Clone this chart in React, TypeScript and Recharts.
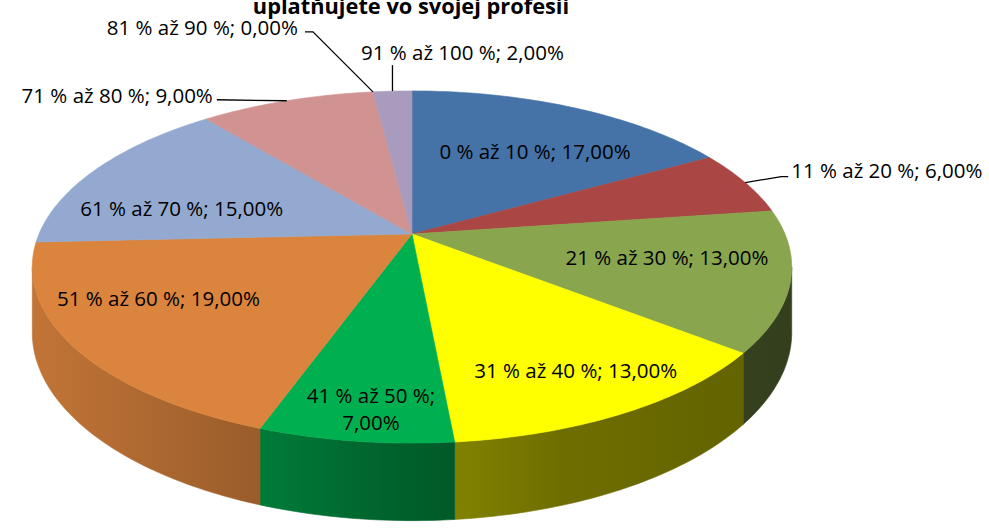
import React from "react";
import { PieChart, Pie, Cell } from "recharts";

// categories and shares
const categories = [
  "0 % až 10 %",
  "11 % až 20 %",
  "21 % až 30 %",
  "31 % až 40 %",
  "41 % až 50 %",
  "51 % až 60 %",
  "61 % až 70 %",
  "71 % až 80 %",
  "81 % až 90 %",
  "91 % až 100 %",
];
const shares = [17, 6, 13, 13, 7, 19, 15, 9, 0, 2];

const sliceColors = [
  "#4572A7",
  "#AA4643",
  "#89A54E",
  "#FFFF00",
  "#00B050",
  "#DB843D",
  "#93A9CF",
  "#D09392",
  "#80699B",
  "#A99BBD",
];

// label placement (Excel "best fit" imitation)
type Spot =
  | { kind: "in"; r: number; dx: number; dy: number; wrap?: boolean }
  | {
      kind: "out";
      elbow: [number, number];
      end: [number, number];
      text: [number, number];
      anchor: "start" | "middle" | "end";
    };

const labelSpots: Spot[] = [
  { kind: "in", r: 0.62, dx: 17, dy: 0 },
  { kind: "out", elbow: [36, -6], end: [43, -6], text: [46, -13], anchor: "start" },
  { kind: "in", r: 0.7, dx: -6, dy: -9 },
  { kind: "in", r: 0.79, dx: 2, dy: 0 },
  { kind: "in", r: 0.87, dx: 7, dy: 0, wrap: true },
  { kind: "in", r: 0.7, dx: -26, dy: -13 },
  { kind: "in", r: 0.7, dx: -4, dy: 20 },
  { kind: "out", elbow: [0, 0], end: [-70, -1], text: [-74, -6], anchor: "end" },
  { kind: "out", elbow: [-60, -60], end: [-68, -60], text: [-75, -65], anchor: "end" },
  { kind: "out", elbow: [0, -26], end: [0, -26], text: [70, -39], anchor: "middle" },
];

const tableData = categories.map((name, i) => ({ name, value: shares[i] }));

const FONT = "'Open Sans', sans-serif";
const TILT = 0.4555; // vertical squash of the disc
const PERSP = 0.1875; // perspective strength
const DEPTH = 63; // thickness of the pie

const rad = (d: number) => (d * Math.PI) / 180;

// phi: clockwise degrees from 3 o'clock, r: 0..1
function project(cx: number, cy: number, R: number, phi: number, r = 1, drop = 0) {
  const u = r * Math.cos(rad(phi));
  const v = r * Math.sin(rad(phi));
  const w = 1 - PERSP * v;
  return [cx + (R * u) / w, cy + (R * TILT * v + drop) / w];
}

const toPath = (pts: number[][]) =>
  pts.map((p, i) => `${i ? "L" : "M"}${p[0].toFixed(2)},${p[1].toFixed(2)}`).join("") + "Z";

function shade(hex: string, f: number) {
  const n = parseInt(hex.slice(1), 16);
  const c = [(n >> 16) & 255, (n >> 8) & 255, n & 255].map((x) => Math.round(x * f));
  return `rgb(${c[0]},${c[1]},${c[2]})`;
}

const TopFace = (props: any) => {
  const { cx, cy, outerRadius, startAngle, endAngle, fill } = props;
  const p0 = -startAngle;
  const p1 = -endAngle;
  if (p1 - p0 < 0.01) return null;
  const steps = Math.max(2, Math.ceil(p1 - p0));
  const pts = [[cx, cy]];
  for (let i = 0; i <= steps; i++) pts.push(project(cx, cy, outerRadius, p0 + ((p1 - p0) * i) / steps));
  return <path d={toPath(pts)} fill={fill} stroke={fill} strokeWidth={0.6} />;
};

const Wall = (props: any) => {
  const { cx, cy, outerRadius, startAngle, endAngle, index } = props;
  const edge = (Math.asin(PERSP) * 180) / Math.PI;
  const s = Math.max(-startAngle, edge);
  const e = Math.min(-endAngle, 180 - edge);
  if (e - s < 0.01) return null;
  const steps = Math.max(2, Math.ceil(e - s));
  const pts: number[][] = [];
  for (let i = 0; i <= steps; i++) pts.push(project(cx, cy, outerRadius, s + ((e - s) * i) / steps));
  for (let i = steps; i >= 0; i--) pts.push(project(cx, cy, outerRadius, s + ((e - s) * i) / steps, 1, DEPTH));
  const base = sliceColors[index];
  const id = `wall-grad-${index}`;
  const stops: [number, number][] = [
    [0, 0.88],
    [0.3, 0.7],
    [0.48, 0.55],
    [0.7, 0.43],
    [1, 0.38],
  ];
  return (
    <g>
      <defs>
        <linearGradient id={id} gradientUnits="userSpaceOnUse" x1={cx - outerRadius} y1={0} x2={cx + outerRadius} y2={0}>
          {stops.map(([o, f]) => (
            <stop key={o} offset={o} stopColor={shade(base, f)} />
          ))}
        </linearGradient>
      </defs>
      <path d={toPath(pts)} fill={`url(#${id})`} stroke={`url(#${id})`} strokeWidth={0.6} />
    </g>
  );
};

const pctText = (v: number) => `${v.toFixed(2).replace(".", ",")}%`;

const renderLabel = (props: any) => {
  const { cx, cy, outerRadius, midAngle, index } = props;
  const spot = labelSpots[index];
  const phi = -midAngle;
  const txtStyle = { fontFamily: FONT, fontSize: 20.5, fill: "#000" };
  if (spot.kind === "in") {
    const [x0, y0] = project(cx, cy, outerRadius, phi, spot.r);
    const x = x0 + spot.dx;
    const y = y0 + spot.dy;
    if (spot.wrap) {
      return (
        <text x={x} y={y} textAnchor="middle" style={txtStyle}>
          <tspan x={x} dy={-13.5} dominantBaseline="central">{`${categories[index]};`}</tspan>
          <tspan x={x} dy={27} dominantBaseline="central">{pctText(shares[index])}</tspan>
        </text>
      );
    }
    return (
      <text x={x} y={y} textAnchor="middle" dominantBaseline="central" style={txtStyle}>
        {`${categories[index]}; ${pctText(shares[index])}`}
      </text>
    );
  }
  const [rx, ry] = project(cx, cy, outerRadius, phi, 1);
  const pts = [
    [rx, ry],
    [rx + spot.elbow[0], ry + spot.elbow[1]],
    [rx + spot.end[0], ry + spot.end[1]],
  ];
  return (
    <g>
      <polyline
        points={pts.map((p) => p.join(",")).join(" ")}
        fill="none"
        stroke="#000"
        strokeWidth={1.3}
      />
      <text
        x={rx + spot.text[0]}
        y={ry + spot.text[1]}
        textAnchor={spot.anchor}
        dominantBaseline="central"
        style={txtStyle}
      >
        {`${categories[index]}; ${pctText(shares[index])}`}
      </text>
    </g>
  );
};

export default function App() {
  return (
    <div style={{ position: "absolute", left: 0, top: 0, width: 989, height: 528, background: "#fff" }}>
      <PieChart width={989} height={528} margin={{ top: 0, right: 0, bottom: 0, left: 0 }}>
        <Pie
          data={tableData}
          dataKey="value"
          nameKey="name"
          cx={412}
          cy={234}
          outerRadius={373}
          startAngle={90}
          endAngle={-270}
          stroke="none"
          shape={Wall}
          isAnimationActive={false}
        />
        <Pie
          data={tableData}
          dataKey="value"
          nameKey="name"
          cx={412}
          cy={234}
          outerRadius={373}
          startAngle={90}
          endAngle={-270}
          stroke="none"
          shape={TopFace}
          label={renderLabel}
          labelLine={false}
          isAnimationActive={false}
        >
          {tableData.map((d, i) => (
            <Cell key={d.name} fill={sliceColors[i]} />
          ))}
        </Pie>
      </PieChart>
      {/* title sits partly above the frame, as in the reference */}
      <svg width={989} height={40} style={{ position: "absolute", left: 0, top: 0 }}>
        <text
          x={411}
          y={14}
          textAnchor="middle"
          style={{ fontFamily: FONT, fontSize: 21.8, fontWeight: 700, fill: "#000" }}
        >
          uplatňujete vo svojej profesii
        </text>
      </svg>
    </div>
  );
}
